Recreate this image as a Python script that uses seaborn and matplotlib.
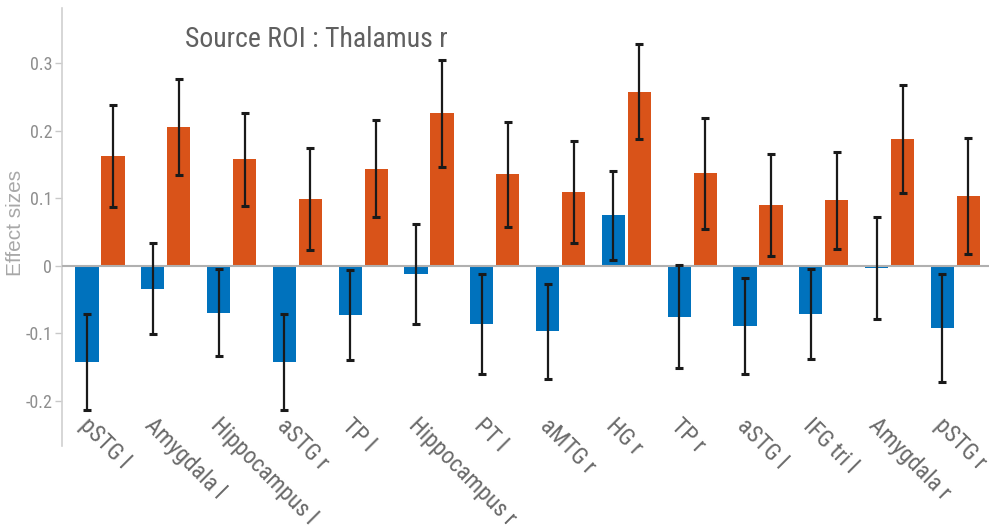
import matplotlib
matplotlib.use("Agg")
import matplotlib.pyplot as plt
import seaborn as sns
import pandas as pd
from matplotlib import font_manager

categories = ["pSTG l", "Amygdala l", "Hippocampus l", "aSTG r", "TP l", "Hippocampus r",
              "PT l", "aMTG r", "HG r", "TP r", "aSTG l", "IFG tri l", "Amygdala r", "pSTG r"]
series_names = ["Series 1", "Series 2"]
blue_vals = [-0.142, -0.034, -0.069, -0.142, -0.073, -0.012, -0.086, -0.097, 0.075, -0.075,
             -0.089, -0.071, -0.003, -0.092]
blue_err = [0.071, 0.0675, 0.0645, 0.0715, 0.067, 0.074, 0.0735, 0.0705, 0.066, 0.0765,
            0.071, 0.067, 0.0755, 0.080]
orange_vals = [0.163, 0.206, 0.158, 0.099, 0.144, 0.226, 0.136, 0.110, 0.258, 0.137,
               0.090, 0.097, 0.188, 0.104]
orange_err = [0.076, 0.0715, 0.069, 0.076, 0.072, 0.0795, 0.078, 0.0755, 0.0705, 0.082,
              0.0755, 0.0715, 0.0805, 0.086]
yticks = [-0.2, -0.1, 0, 0.1, 0.2, 0.3]
ytick_labels = ["-0.2", "-0.1", "0", "0.1", "0.2", "0.3"]
title = "Source ROI : Thalamus r"
ylabel = "Effect sizes"

available = {f.name for f in font_manager.fontManager.ttflist}
narrow = None
for cand in ["Liberation Sans Narrow", "Arial Narrow", "Nimbus Sans Narrow", "Roboto Condensed",
             "Archivo Narrow", "PT Sans Narrow", "Open Sans Condensed", "Fira Sans Condensed"]:
    if cand in available:
        narrow = cand
        break
if narrow is None:
    narrow_fam = ["Liberation Sans", "DejaVu Sans"]
    scale = 0.84
else:
    narrow_fam = [narrow, "DejaVu Sans"]
    scale = 1.0

sns.set_style("white")
plt.rcParams["font.family"] = narrow_fam

df = pd.DataFrame({
    "roi": categories * 2,
    "series": [series_names[0]] * len(categories) + [series_names[1]] * len(categories),
    "value": blue_vals + orange_vals,
})

fig = plt.figure(figsize=(9.89, 5.32), dpi=100)
ax = fig.add_axes([0.0627, 0.1617, 0.9373, 0.8233])

palette = {series_names[0]: "#0072BD", series_names[1]: "#D95319"}
sns.barplot(data=df, x="roi", y="value", hue="series", hue_order=series_names,
            palette=palette, order=categories, width=0.79, gap=0.11,
            errorbar=None, legend=False, saturation=1, ax=ax,
            edgecolor="none", linewidth=0)

for cont, vals, errs in zip(ax.containers, [blue_vals, orange_vals], [blue_err, orange_err]):
    xs = [b.get_x() + b.get_width() / 2 for b in cont]
    ax.errorbar(xs, vals, yerr=errs, fmt="none", ecolor="#1a1a1a", elinewidth=1.6,
                capsize=3.2, capthick=2.2, zorder=5)

ax.axhline(0, color="#b0b0b0", lw=1.5, zorder=4)

ax.set_xlim(-0.578, 13.51)
ax.set_ylim(-0.2667, 0.3822)
ax.set_yticks(yticks)
ax.set_yticklabels(ytick_labels)
ax.tick_params(axis="y", which="both", left=True, length=5, width=1, color="#c8c8c8",
               labelsize=13 * scale, labelcolor="#8e8e8e", pad=2)
ax.set_xticks(range(len(categories)))
ax.set_xticklabels([])
ax.tick_params(axis="x", bottom=False)

for i, cat in enumerate(categories):
    ax.text(i - 0.14, -0.219, cat, rotation=-45, rotation_mode="anchor",
            ha="left", va="top", fontsize=17 * scale, color="#6a6a6a", clip_on=False)

ax.set_xlabel("")
ax.set_ylabel(ylabel, fontsize=15, color="#a8a8a8",
              family=["Liberation Sans", "DejaVu Sans"])
ax.yaxis.set_label_coords(-0.040, 0.51)

for s in ["top", "right", "bottom"]:
    ax.spines[s].set_visible(False)
ax.spines["left"].set_color("#d0d0d0")
ax.spines["left"].set_linewidth(1.2)

ax.text(0.1327, 0.928, title, transform=ax.transAxes, fontsize=20 * scale, color="#606060",
        ha="left", va="center")

fig.savefig("out.png", dpi=100)
